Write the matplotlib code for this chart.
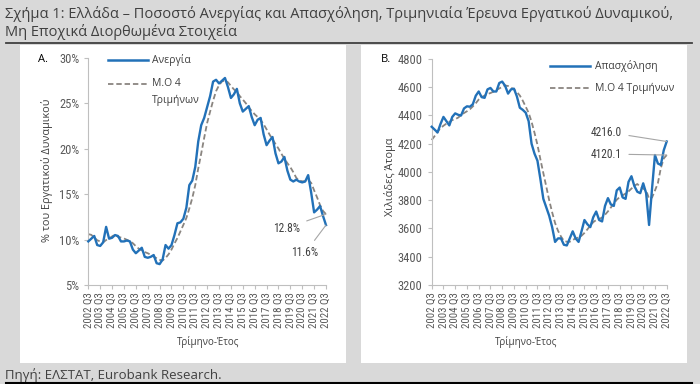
import matplotlib
matplotlib.use('Agg')
import matplotlib.pyplot as plt
import numpy as np
import pandas as pd
from matplotlib import font_manager as fm
from matplotlib.patches import Rectangle
from matplotlib.lines import Line2D

# ---------------- data ----------------
tick_labels = [f"{y} Q3" for y in range(2002, 2023)]

# unemployment rate (%), quarterly 2002Q3 .. 2022Q3
unemp_prior = [10.4, 11.6, 10.6]          # 2001Q4 .. 2002Q2 (for the 4-qtr average)
unemp = [9.8, 10.1, 10.4, 9.4, 9.3, 9.7, 11.4, 10.1, 10.2, 10.5,
         10.4, 9.8, 9.8, 9.9, 9.8, 8.9, 8.5, 8.8, 9.1, 8.1,
         8.0, 8.1, 8.3, 7.4, 7.3, 7.8, 9.4, 9.0, 9.4, 10.5,
         11.8, 11.9, 12.3, 13.5, 16.0, 16.5, 18.0, 20.8, 22.6, 23.4,
         24.6, 25.8, 27.4, 27.6, 27.2, 27.5, 27.8, 26.8, 25.6, 26.0,
         26.6, 25.0, 24.1, 24.4, 24.7, 23.5, 22.6, 23.2, 23.4, 21.6,
         20.4, 20.9, 21.3, 19.5, 18.4, 18.6, 19.1, 17.6, 16.6, 16.4,
         16.6, 16.4, 16.3, 16.4, 17.1, 15.2, 13.0, 13.3, 13.7, 12.6,
         11.6]

# employment (thousands), quarterly 2002Q3 .. 2022Q3
emp_prior = [4190, 4150, 4248]
emp = [4320, 4300, 4280, 4340, 4390, 4360, 4330, 4390, 4415, 4405,
       4400, 4450, 4465, 4462, 4480, 4540, 4570, 4530, 4525, 4585,
       4595, 4570, 4570, 4630, 4640, 4610, 4555, 4585, 4590, 4535,
       4455, 4440, 4420, 4360, 4200, 4130, 4080, 3950, 3810, 3750,
       3690, 3610, 3505, 3530, 3530, 3485, 3480, 3530, 3580, 3530,
       3505, 3580, 3660, 3630, 3610, 3680, 3720, 3660, 3650, 3760,
       3815, 3770, 3760, 3870, 3890, 3820, 3810, 3930, 3970, 3900,
       3860, 3850, 3920, 3850, 3625, 3880, 4120, 4060, 4050, 4154.4,
       4216.0]

unemp_ma = pd.Series(unemp_prior + unemp).rolling(4).mean().iloc[len(unemp_prior):].to_numpy()
emp_ma = pd.Series(emp_prior + emp).rolling(4).mean().iloc[len(emp_prior):].to_numpy()

# ---------------- style ----------------
W, H = 700, 384
BLUE = '#2271b8'
DASH = '#8a8580'
AXC = '#bfbfbf'
TXT = '#404040'

names = {f.name for f in fm.fontManager.ttflist}
def pick(c):
    for n in c:
        if n in names:
            return n
    return 'DejaVu Sans'
NARROW = pick(['Liberation Sans Narrow', 'Roboto Condensed', 'Open Sans Condensed', 'Liberation Sans'])
REG = pick(['Open Sans', 'Noto Sans', 'DejaVu Sans'])
plt.rcParams['font.family'] = [REG, 'DejaVu Sans']

def fx(p): return p / W
def fy(p): return 1 - p / H

fig = plt.figure(figsize=(7, 3.84), dpi=100)
fig.patch.set_facecolor('#d9d9d9')

for x0, x1 in [(20, 346), (361, 687)]:
    fig.patches.append(Rectangle((fx(x0), fy(363)), (x1 - x0) / W, (363 - 45) / H,
                                 transform=fig.transFigure, facecolor='white',
                                 edgecolor='none', zorder=-10))

fig.text(fx(5), fy(14), "Σχήμα 1: Ελλάδα – Ποσοστό Ανεργίας και Απασχόληση, Τριμηνιαία Έρευνα Εργατικού Δυναμικού,",
         fontsize=10.5, color=TXT, va='center', ha='left')
fig.text(fx(5), fy(32), "Μη Εποχικά Διορθωμένα Στοιχεία",
         fontsize=10.5, color=TXT, va='center', ha='left')
fig.add_artist(Line2D([fx(6), fx(692)], [fy(43), fy(43)], color='#404040', lw=1.3,
                      transform=fig.transFigure))
fig.text(fx(5), fy(375), "Πηγή: ΕΛΣΤΑΤ, Eurobank Research.", fontsize=9.5, color=TXT,
         va='center', ha='left')
fig.add_artist(Line2D([fx(6), fx(692)], [fy(382.5), fy(382.5)], color='black', lw=1.5,
                      transform=fig.transFigure))

x = np.arange(len(unemp))
tick_pos = x[::4]

def style_axes(ax):
    ax.set_facecolor('none')
    for s in ['top', 'right']:
        ax.spines[s].set_visible(False)
    for s in ['left', 'bottom']:
        ax.spines[s].set_color(AXC)
        ax.spines[s].set_linewidth(0.8)
    ax.tick_params(axis='both', direction='out', length=3, color=AXC, width=0.8,
                   labelcolor='#595959')
    ax.tick_params(axis='x', pad=2)
    ax.set_xlim(0, len(unemp) - 1)
    ax.set_xticks(tick_pos)
    ax.set_xticklabels(tick_labels, rotation=90, fontsize=7.8, family=NARROW)
    for lab in ax.get_yticklabels():
        lab.set_fontfamily(NARROW)

# ---------- panel A ----------
axA = fig.add_axes([fx(88.3), fy(285), (326 - 88.3) / W, (285 - 58) / H])
axA.plot(x, unemp_ma, color=DASH, lw=1.3, ls=(0, (3, 1.6)), clip_on=False, zorder=2)
axA.plot(x, unemp, color=BLUE, lw=1.7, clip_on=False, zorder=3)
axA.set_ylim(5, 30)
axA.set_yticks(np.arange(5, 31, 5))
axA.set_yticklabels([f"{v}%" for v in range(5, 31, 5)], fontsize=9)
style_axes(axA)

axA.annotate(f"{unemp_ma[-1]:.1f}%", xy=(x[-1], unemp_ma[-1]), xytext=(300, H - 228),
             textcoords='figure pixels', ha='right', va='center', fontsize=8.3,
             family=NARROW, color=TXT,
             arrowprops=dict(arrowstyle='-', color='#a6a6a6', lw=0.8, shrinkA=3, shrinkB=0))
axA.annotate(f"{unemp[-1]:.1f}%", xy=(x[-1], unemp[-1]), xytext=(305, H - 253),
             textcoords='figure pixels', ha='center', va='center', fontsize=8.3,
             family=NARROW, color=TXT,
             arrowprops=dict(arrowstyle='-', color='#a6a6a6', lw=0.8, shrinkA=3, shrinkB=0))

fig.text(fx(38), fy(59), "A.", fontsize=8, color='black', va='center', ha='left')
fig.add_artist(Line2D([fx(108), fx(148)], [fy(60), fy(60)], color=BLUE, lw=1.8,
                      transform=fig.transFigure))
fig.text(fx(152), fy(60), "Ανεργία", fontsize=7.5, color=TXT, va='center', ha='left')
fig.add_artist(Line2D([fx(108), fx(148)], [fy(84), fy(84)], color=DASH, lw=1.3,
                      ls=(0, (3, 1.6)), transform=fig.transFigure))
fig.text(fx(152), fy(84), "Μ.Ο 4", fontsize=7.5, color=TXT, va='center', ha='left')
fig.text(fx(152), fy(100), "Τριμήνων", fontsize=7.5, color=TXT, va='center', ha='left')
fig.text(fx(47), fy(170), "% του Εργατικού Δυναμικού", rotation=90, fontsize=7.8,
         color=TXT, va='center', ha='center')
fig.text(fx(208), fy(342), "Τρίμηνο-Έτος", fontsize=7, color=TXT, va='center', ha='center')

# ---------- panel B ----------
axB = fig.add_axes([fx(431.7), fy(285), (666.7 - 431.7) / W, (285 - 59) / H])
axB.plot(x, emp_ma, color=DASH, lw=1.3, ls=(0, (3, 1.6)), clip_on=False, zorder=2)
axB.plot(x, emp, color=BLUE, lw=1.7, clip_on=False, zorder=3)
axB.set_ylim(3200, 4800)
axB.set_yticks(np.arange(3200, 4801, 200))
axB.set_yticklabels([f"{v}" for v in range(3200, 4801, 200)], fontsize=9)
style_axes(axB)

axB.annotate(f"{emp[-1]:.1f}", xy=(x[-1], emp[-1]), xytext=(622, H - 132),
             textcoords='figure pixels', ha='right', va='center', fontsize=8.3,
             family=NARROW, color=TXT,
             arrowprops=dict(arrowstyle='-', color='#a6a6a6', lw=0.8, shrinkA=3, shrinkB=0))
axB.annotate(f"{emp_ma[-1]:.1f}", xy=(x[-1], emp_ma[-1]), xytext=(622, H - 154),
             textcoords='figure pixels', ha='right', va='center', fontsize=8.3,
             family=NARROW, color=TXT,
             arrowprops=dict(arrowstyle='-', color='#a6a6a6', lw=0.8, shrinkA=3, shrinkB=0))

fig.text(fx(381), fy(59), "B.", fontsize=8, color='black', va='center', ha='left')
fig.add_artist(Line2D([fx(550), fx(590)], [fy(66), fy(66)], color=BLUE, lw=1.8,
                      transform=fig.transFigure))
fig.text(fx(595), fy(66), "Απασχόληση", fontsize=7.5, color=TXT, va='center', ha='left')
fig.add_artist(Line2D([fx(550), fx(590)], [fy(88), fy(88)], color=DASH, lw=1.3,
                      ls=(0, (3, 1.6)), transform=fig.transFigure))
fig.text(fx(595), fy(88), "Μ.Ο 4 Τριμήνων", fontsize=7.5, color=TXT, va='center', ha='left')
fig.text(fx(390), fy(177), "Χιλιάδες Άτομα", rotation=90, fontsize=7.8,
         color=TXT, va='center', ha='center')
fig.text(fx(526), fy(342), "Τρίμηνο-Έτος", fontsize=7, color=TXT, va='center', ha='center')

fig.savefig('out.png', dpi=100, facecolor=fig.get_facecolor())
